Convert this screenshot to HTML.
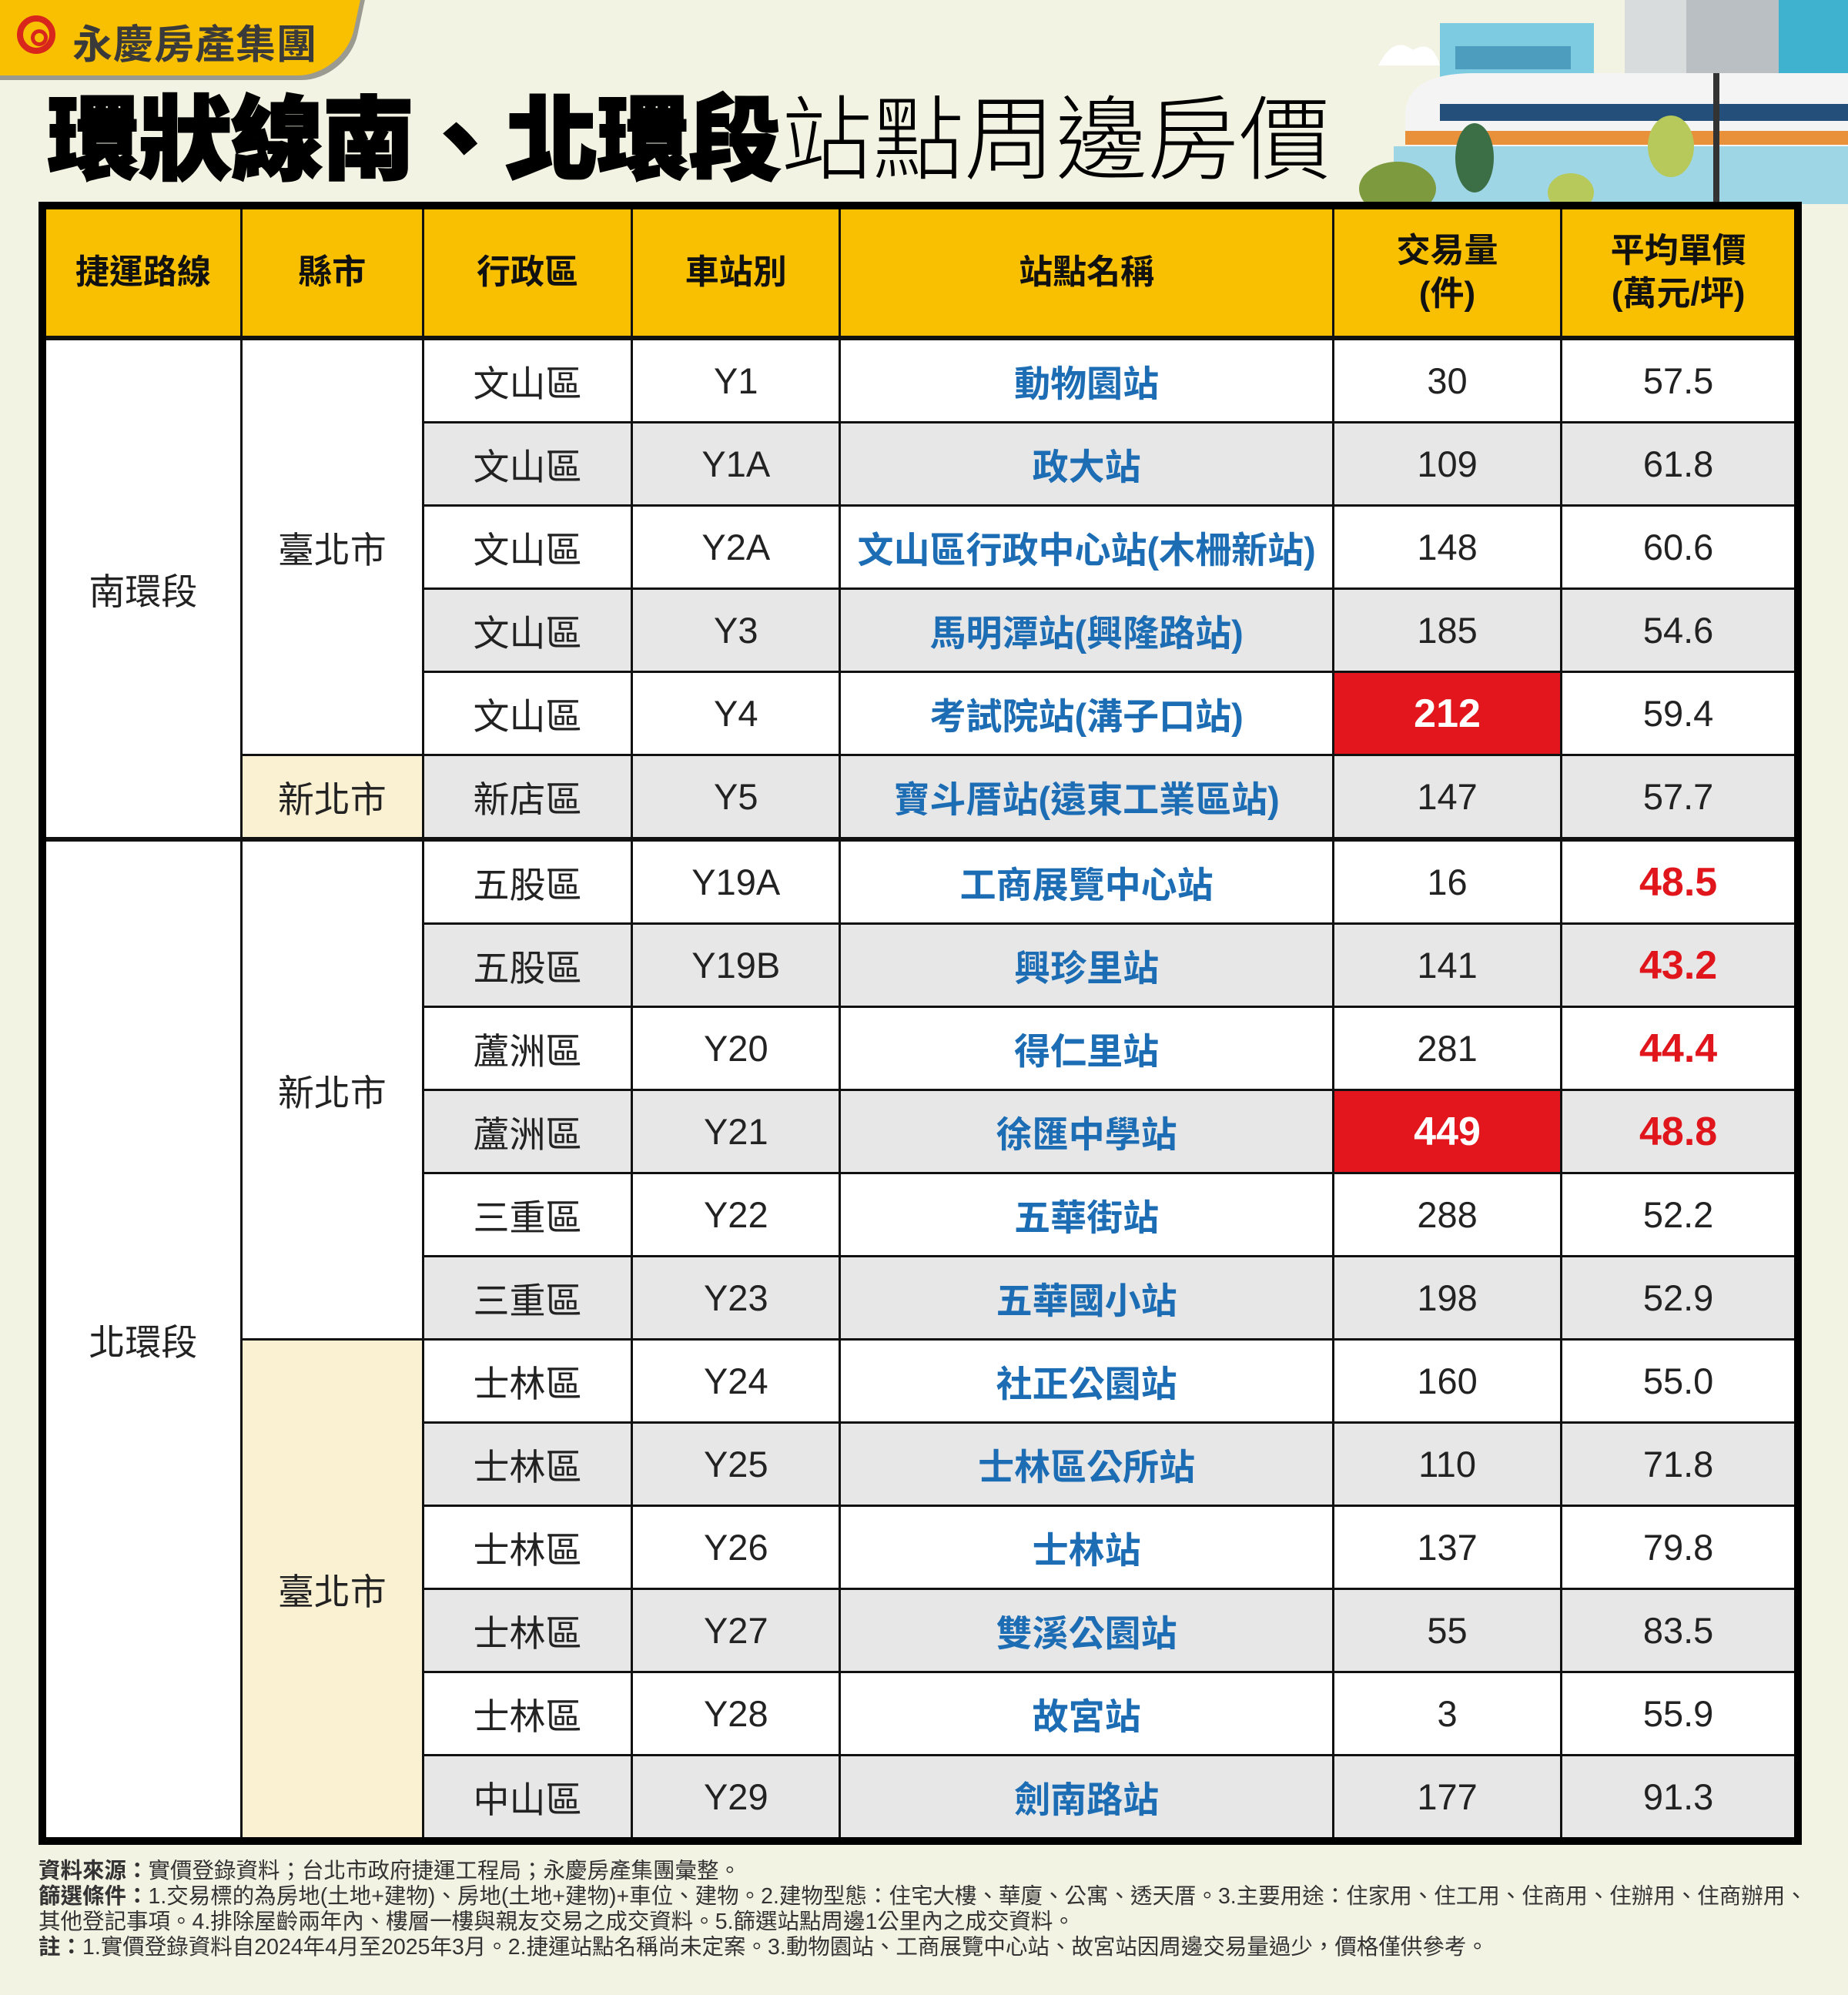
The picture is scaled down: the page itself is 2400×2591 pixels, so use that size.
<!DOCTYPE html>
<html><head><meta charset="utf-8">
<style>
html,body{margin:0;padding:0}
body{width:2400px;height:2591px;background:#f3f3e4;position:relative;overflow:hidden;font-family:"Liberation Sans","Noto Sans CJK TC",sans-serif}
.tab{position:absolute;left:-40px;top:-10px;width:510px;height:108px;background:#f8c000;border-radius:0 0 60px 0;box-shadow:6px 6px 0 #9a9a90;transform:skewX(-12deg);transform-origin:0 0}
.logo{position:absolute;left:22px;top:20px;width:50px;height:50px;border:8px solid #d9261c;border-radius:50%;box-sizing:border-box}
.logo:after{content:"";position:absolute;left:10px;top:10px;width:12px;height:12px;border:5px solid #d9261c;border-radius:50%}
.brand{position:absolute;left:94px;top:16px;font-size:52px;font-weight:bold;color:#3a3a3a;letter-spacing:1px}
.title{position:absolute;left:62px;top:118px;font-size:119px;line-height:130px;color:#000;white-space:nowrap}
.title b{font-weight:900;-webkit-text-stroke:3px #000}
.title span{font-weight:300}
table{position:absolute;left:50px;top:262px;width:2290px;height:2130px;border-collapse:collapse;table-layout:fixed;border:10px solid #000}
td,th{border:3px solid #111;text-align:center;font-size:47px;color:#222;padding:0}
th{background:#f8c000;font-weight:bold;font-size:44px;line-height:56px;height:164px;border-bottom:6px solid #111;color:#111}
td{height:105px}
tr.g td.s{background:#e7e7e7}
td.s{background:#fff}
td.w{background:#fff}
td.c{background:#faf0d2}
td.n{color:#1d6db5;font-weight:bold}
td.r{background:#e2161c!important;color:#fff;font-weight:bold;font-size:52px}
td.rt{color:#e0161c;font-weight:bold;font-size:52px}
tr.sep td{border-top:6px solid #111}
.foot{position:absolute;left:50px;top:2414px;font-size:28.5px;line-height:33px;color:#333;white-space:nowrap}
.foot b{font-weight:bold}
</style></head><body>
<svg style="position:absolute;left:1750px;top:0" width="650" height="265">
<rect x="120" y="30" width="200" height="235" fill="#7ccbe0"/>
<rect x="360" y="0" width="200" height="265" fill="#d9dcdc"/>
<rect x="440" y="0" width="120" height="265" fill="#b9bfc2"/>
<rect x="560" y="0" width="90" height="265" fill="#3eb2cf"/>
<rect x="140" y="60" width="150" height="30" fill="#2f7ea8" opacity=".6"/>
<path d="M40 85 q20 -40 45 -20 q25 -15 35 20 z" fill="#fff"/>
<path d="M75 150 q0 -55 90 -55 l500 0 0 95 -590 0 z" fill="#f4f4f4"/>
<rect x="120" y="135" width="530" height="22" fill="#234f7a"/>
<rect x="75" y="170" width="575" height="18" fill="#e8903a"/>
<rect x="60" y="190" width="590" height="75" fill="#9fd6e6"/>
<ellipse cx="65" cy="245" rx="50" ry="35" fill="#7d9a3e"/>
<ellipse cx="165" cy="205" rx="25" ry="45" fill="#3d6f46"/>
<ellipse cx="420" cy="190" rx="30" ry="40" fill="#b7c95a"/>
<ellipse cx="290" cy="250" rx="30" ry="25" fill="#b7c95a"/>
<rect x="475" y="95" width="8" height="170" fill="#333"/>
</svg>
<div class="tab"></div>
<div class="logo"></div>
<div class="brand">永慶房產集團</div>
<div class="title"><b>環狀線南、北環段</b><span>站點周邊房價</span></div>
<table>
<colgroup><col style="width:258px"><col style="width:236px"><col style="width:271px"><col style="width:270px"><col style="width:640px"><col style="width:296px"><col style="width:307px"></colgroup>
<tr><th>捷運路線</th><th>縣市</th><th>行政區</th><th>車站別</th><th>站點名稱</th><th>交易量<br>(件)</th><th>平均單價<br>(萬元/坪)</th></tr>
<tr><td class="w" rowspan="6">南環段</td><td class="w" rowspan="5">臺北市</td><td class="s">文山區</td><td class="s">Y1</td><td class="s n">動物園站</td><td class="s">30</td><td class="s">57.5</td></tr>
<tr class="g"><td class="s">文山區</td><td class="s">Y1A</td><td class="s n">政大站</td><td class="s">109</td><td class="s">61.8</td></tr>
<tr><td class="s">文山區</td><td class="s">Y2A</td><td class="s n">文山區行政中心站(木柵新站)</td><td class="s">148</td><td class="s">60.6</td></tr>
<tr class="g"><td class="s">文山區</td><td class="s">Y3</td><td class="s n">馬明潭站(興隆路站)</td><td class="s">185</td><td class="s">54.6</td></tr>
<tr><td class="s">文山區</td><td class="s">Y4</td><td class="s n">考試院站(溝子口站)</td><td class="s r">212</td><td class="s">59.4</td></tr>
<tr class="g"><td class="c">新北市</td><td class="s">新店區</td><td class="s">Y5</td><td class="s n">寶斗厝站(遠東工業區站)</td><td class="s">147</td><td class="s">57.7</td></tr>
<tr class="sep"><td class="w" rowspan="12">北環段</td><td class="w" rowspan="6">新北市</td><td class="s">五股區</td><td class="s">Y19A</td><td class="s n">工商展覽中心站</td><td class="s">16</td><td class="s rt">48.5</td></tr>
<tr class="g"><td class="s">五股區</td><td class="s">Y19B</td><td class="s n">興珍里站</td><td class="s">141</td><td class="s rt">43.2</td></tr>
<tr><td class="s">蘆洲區</td><td class="s">Y20</td><td class="s n">得仁里站</td><td class="s">281</td><td class="s rt">44.4</td></tr>
<tr class="g"><td class="s">蘆洲區</td><td class="s">Y21</td><td class="s n">徐匯中學站</td><td class="s r">449</td><td class="s rt">48.8</td></tr>
<tr><td class="s">三重區</td><td class="s">Y22</td><td class="s n">五華街站</td><td class="s">288</td><td class="s">52.2</td></tr>
<tr class="g"><td class="s">三重區</td><td class="s">Y23</td><td class="s n">五華國小站</td><td class="s">198</td><td class="s">52.9</td></tr>
<tr><td class="c" rowspan="6">臺北市</td><td class="s">士林區</td><td class="s">Y24</td><td class="s n">社正公園站</td><td class="s">160</td><td class="s">55.0</td></tr>
<tr class="g"><td class="s">士林區</td><td class="s">Y25</td><td class="s n">士林區公所站</td><td class="s">110</td><td class="s">71.8</td></tr>
<tr><td class="s">士林區</td><td class="s">Y26</td><td class="s n">士林站</td><td class="s">137</td><td class="s">79.8</td></tr>
<tr class="g"><td class="s">士林區</td><td class="s">Y27</td><td class="s n">雙溪公園站</td><td class="s">55</td><td class="s">83.5</td></tr>
<tr><td class="s">士林區</td><td class="s">Y28</td><td class="s n">故宮站</td><td class="s">3</td><td class="s">55.9</td></tr>
<tr class="g"><td class="s">中山區</td><td class="s">Y29</td><td class="s n">劍南路站</td><td class="s">177</td><td class="s">91.3</td></tr>
</table>
<div class="foot">
<div><b>資料來源：</b>實價登錄資料；台北市政府捷運工程局；永慶房產集團彙整。</div>
<div><b>篩選條件：</b>1.交易標的為房地(土地+建物)、房地(土地+建物)+車位、建物。2.建物型態：住宅大樓、華廈、公寓、透天厝。3.主要用途：住家用、住工用、住商用、住辦用、住商辦用、</div>
<div>其他登記事項。4.排除屋齡兩年內、樓層一樓與親友交易之成交資料。5.篩選站點周邊1公里內之成交資料。</div>
<div><b>註：</b>1.實價登錄資料自2024年4月至2025年3月。2.捷運站點名稱尚未定案。3.動物園站、工商展覽中心站、故宮站因周邊交易量過少，價格僅供參考。</div>
</div>
</body></html>
